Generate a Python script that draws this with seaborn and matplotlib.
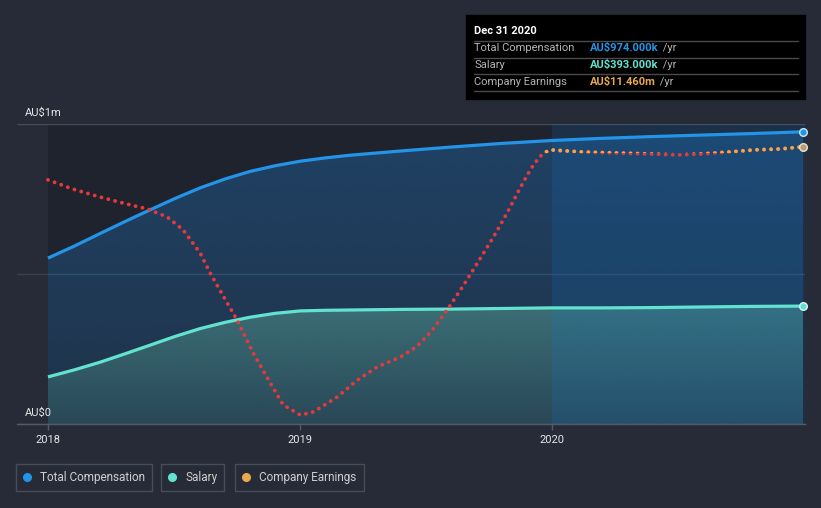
import matplotlib
matplotlib.use("Agg")
import matplotlib.pyplot as plt
import matplotlib.transforms as mtransforms
from matplotlib.patches import Rectangle
from matplotlib.lines import Line2D
from matplotlib.text import Annotation
from matplotlib.colors import to_rgb
import numpy as np
import pandas as pd
import seaborn as sns

# ---------------- data ----------------
comp_years = [2018.0, 2018.107, 2018.207, 2018.306, 2018.406, 2018.505, 2018.604, 2018.704,
              2018.803, 2018.903, 2019.002, 2019.101, 2019.201, 2019.300, 2019.400, 2019.598,
              2019.797, 2020.0, 2020.195, 2020.394, 2020.592, 2020.791, 2020.998]
total_comp_k = [553, 594, 635, 675, 714, 752, 787, 817,
                842, 861, 876, 887, 896, 903, 910, 923,
                935, 945, 952, 958, 963, 968, 974]
salary_k = [157, 181, 206, 234, 263, 292, 318, 339,
            356, 369, 377, 379, 380, 381, 382, 383,
            385, 387, 387, 388, 390, 392, 393]

earn_years = [2018.000, 2018.099, 2018.207, 2018.314, 2018.394, 2018.473, 2018.537, 2018.604,
              2018.644, 2018.712, 2018.751, 2018.815, 2018.883, 2018.934, 2019.002, 2019.054,
              2019.149, 2019.229, 2019.308, 2019.400, 2019.467, 2019.527, 2019.590, 2019.638,
              2019.698, 2019.769, 2019.825, 2019.877, 2019.917, 2019.948, 2019.968, 2019.996,
              2020.127, 2020.262, 2020.394, 2020.501, 2020.592, 2020.700, 2020.803, 2020.911,
              2020.998]
earnings_m = [10.09, 9.71, 9.38, 9.09, 8.89, 8.56, 8.02, 7.07,
              6.24, 5.00, 4.30, 2.93, 1.69, 0.79, 0.37, 0.50,
              1.12, 1.82, 2.36, 2.77, 3.22, 3.89, 4.79, 5.54,
              6.53, 7.73, 8.76, 9.80, 10.54, 10.99, 11.20, 11.33,
              11.24, 11.20, 11.16, 11.12, 11.16, 11.24, 11.33, 11.37,
              11.46]

x_ticks = [2018, 2019, 2020]
x_tick_labels = ["2018", "2019", "2020"]
y_labels = ["AU$0", "AU$1m"]
legend_labels = ["Total Compensation", "Salary", "Company Earnings"]
tooltip_title = "Dec 31 2020"
tooltip_rows = [("Total Compensation", "AU$974.000k"),
                ("Salary", "AU$393.000k"),
                ("Company Earnings", "AU$11.460m")]

# ---------------- style ----------------
BG = "#262b37"
PLOT_BG = "#1f232d"
BLUE = "#2394e8"
TEAL = "#63e2cf"
ORANGE = "#e8a94f"
RED = "#e5393e"
TXT = "#e6e6e6"

sns.set_style("dark", rc={"axes.facecolor": BG, "figure.facecolor": BG})
plt.rcParams["font.family"] = ["Roboto", "DejaVu Sans"]

W, H = 821, 508
fig = plt.figure(figsize=(W / 100, H / 100), dpi=100)
fig.patch.set_facecolor(BG)


def fx(px):
    return px / W


def fy(py):
    return 1 - py / H


ax = fig.add_axes([fx(17), fy(424), fx(805) - fx(17), fy(124) - fy(424)])
ax.set_facecolor(BG)
XMIN, XMAX = 2017.877, 2021.006
YMAX = 1000

comp_df = pd.DataFrame({"year": comp_years, "comp": total_comp_k, "salary": salary_k})
earn_df = pd.DataFrame({"year": earn_years, "earnings": earnings_m})

# data-area background
ax.axvspan(2018.0, XMAX, color=PLOT_BG, zorder=0.5, lw=0)


def gradient_fill(x, y, color, a_bottom, a_top, z):
    poly = ax.fill_between(x, 0, y, color="none", lw=0, zorder=z)
    ytop = max(y)
    img = np.zeros((256, 1, 4))
    img[..., :3] = to_rgb(color)
    img[..., 3] = np.linspace(a_bottom, a_top, 256)[:, None]
    im = ax.imshow(img, extent=[min(x), max(x), 0, ytop], origin="lower", aspect="auto",
                   interpolation="bilinear", zorder=z)
    im.set_clip_path(poly.get_paths()[0], ax.transData)


gradient_fill(comp_years, total_comp_k, "#2170b8", 0.21, 0.40, 1.0)
gradient_fill(comp_years, salary_k, "#6ccaae", 0.14, 0.37, 1.1)
# last-year highlight
ax.axvspan(2020.0, XMAX, color="#0a82e6", alpha=0.14, lw=0, zorder=1.2)

ax.set_xlim(XMIN, XMAX)
ax.set_ylim(0, YMAX)

# grid
ax.set_yticks([0, 500, 1000])
ax.yaxis.grid(True, color="#454b57", lw=1)
ax.xaxis.grid(False)
ax.tick_params(axis="y", length=0, labelleft=False)
for gl in ax.get_ygridlines():
    gl.set_zorder(1.3)
ax.get_ygridlines()[1].set_color("#37404f")

# lines
sns.lineplot(data=comp_df, x="year", y="comp", ax=ax, color=BLUE, lw=2.3, errorbar=None,
             zorder=3, solid_capstyle="butt", solid_joinstyle="round")
sns.lineplot(data=comp_df, x="year", y="salary", ax=ax, color=TEAL, lw=2.3, errorbar=None,
             zorder=3, solid_capstyle="butt", solid_joinstyle="round")
ax.scatter([comp_years[-1]], [total_comp_k[-1]], s=30, color=BLUE, edgecolor="#cfe6fa", lw=1,
           zorder=5, clip_on=False)
ax.scatter([comp_years[-1]], [salary_k[-1]], s=30, color=TEAL, edgecolor="#d8f7f2", lw=1,
           zorder=5, clip_on=False)

# spines / ticks
for s in ["top", "right", "left"]:
    ax.spines[s].set_visible(False)
ax.spines["bottom"].set_color("#555b66")
ax.spines["bottom"].set_linewidth(1)
ax.set_xticks(x_ticks)
ax.set_xticklabels(x_tick_labels)
ax.tick_params(axis="x", colors="#555b66", length=4, width=1, pad=4, labelsize=8, labelcolor=TXT,
               bottom=True)
ax.set_xlabel("")
ax.set_ylabel("")

# y labels inside
blend = mtransforms.blended_transform_factory(ax.transAxes, ax.transData)
for val, lab in zip([0, 1000], y_labels):
    ax.annotate(lab, xy=(0.0102, val), xycoords=blend, xytext=(0, 4), textcoords="offset points",
                color=TXT, fontsize=8, ha="left", va="bottom", zorder=6)

# earnings on a twin scale
ax2 = ax.twinx()
ax2.set_ylim(0, 12.4)
ax2.set_xlim(XMIN, XMAX)
ax2.axis("off")
dot = dict(lw=2.8, linestyle=(0, (0.01, 1.8)), dash_capstyle="round", errorbar=None)
sns.lineplot(data=earn_df, x="year", y="earnings", ax=ax2, color=RED, zorder=3, **dot)
sns.lineplot(data=earn_df, x="year", y="earnings", ax=ax2, color=ORANGE, zorder=3.1, **dot)
THR = 11.2
clip = Rectangle((XMIN, THR), XMAX - XMIN, 20, transform=ax2.transData)
ax2.lines[-1].set_clip_path(clip)
ax2.scatter([earn_years[-1]], [earnings_m[-1]], s=30, color="#b99a72", edgecolor="#e8e2d8", lw=1,
            zorder=5, clip_on=False)
ax2.set_xlabel("")
ax2.set_ylabel("")
if ax2.get_legend():
    ax2.get_legend().remove()

# tooltip box
fig.add_artist(Rectangle((fx(466), fy(99)), fx(805) - fx(466), fy(15) - fy(99),
                         transform=fig.transFigure, color="black", zorder=10))
fig.text(fx(474), fy(31), tooltip_title, color="white", fontsize=8, fontweight="bold",
         ha="left", va="center", zorder=11)
for py in [40.7, 57.7, 74.3, 91.3]:
    fig.add_artist(Line2D([fx(474), fx(798)], [fy(py), fy(py)], transform=fig.transFigure,
                          color="#4a4a4a", lw=1, zorder=11))
row_colors = [BLUE, TEAL, ORANGE]
for (lab, val), py, c in zip(tooltip_rows, [48.3, 64.8, 81.7], row_colors):
    fig.text(fx(474), fy(py), lab, color="#b4b4b4", fontsize=8, ha="left", va="center", zorder=11)
    t = fig.text(fx(590), fy(py), val, color=c, fontsize=8, fontweight="bold", ha="left",
                 va="center", zorder=11)
    fig.add_artist(Annotation(" /yr", xy=(1, 0.5), xycoords=t, xytext=(1, 0),
                              textcoords="offset points", color="#b4b4b4",
                              fontsize=8, ha="left", va="center", zorder=11))

# legend boxes
leg_x = [16, 161, 235]
for lab, c, x0 in zip(legend_labels, row_colors, leg_x):
    h = Line2D([], [], marker="o", color=c, linestyle="", markersize=5.5)
    lg = fig.legend(handles=[h], labels=[lab], loc="lower left",
                    bbox_to_anchor=(fx(x0), fy(491)), frameon=True, fontsize=8.5,
                    labelcolor="#d0d0d0", facecolor=BG, edgecolor="#50565f",
                    handlelength=0.7, handletextpad=0.75, borderpad=0.6, borderaxespad=0,
                    fancybox=False)
    lg.get_frame().set_linewidth(1)

fig.savefig("out.png", dpi=100, facecolor=BG)
